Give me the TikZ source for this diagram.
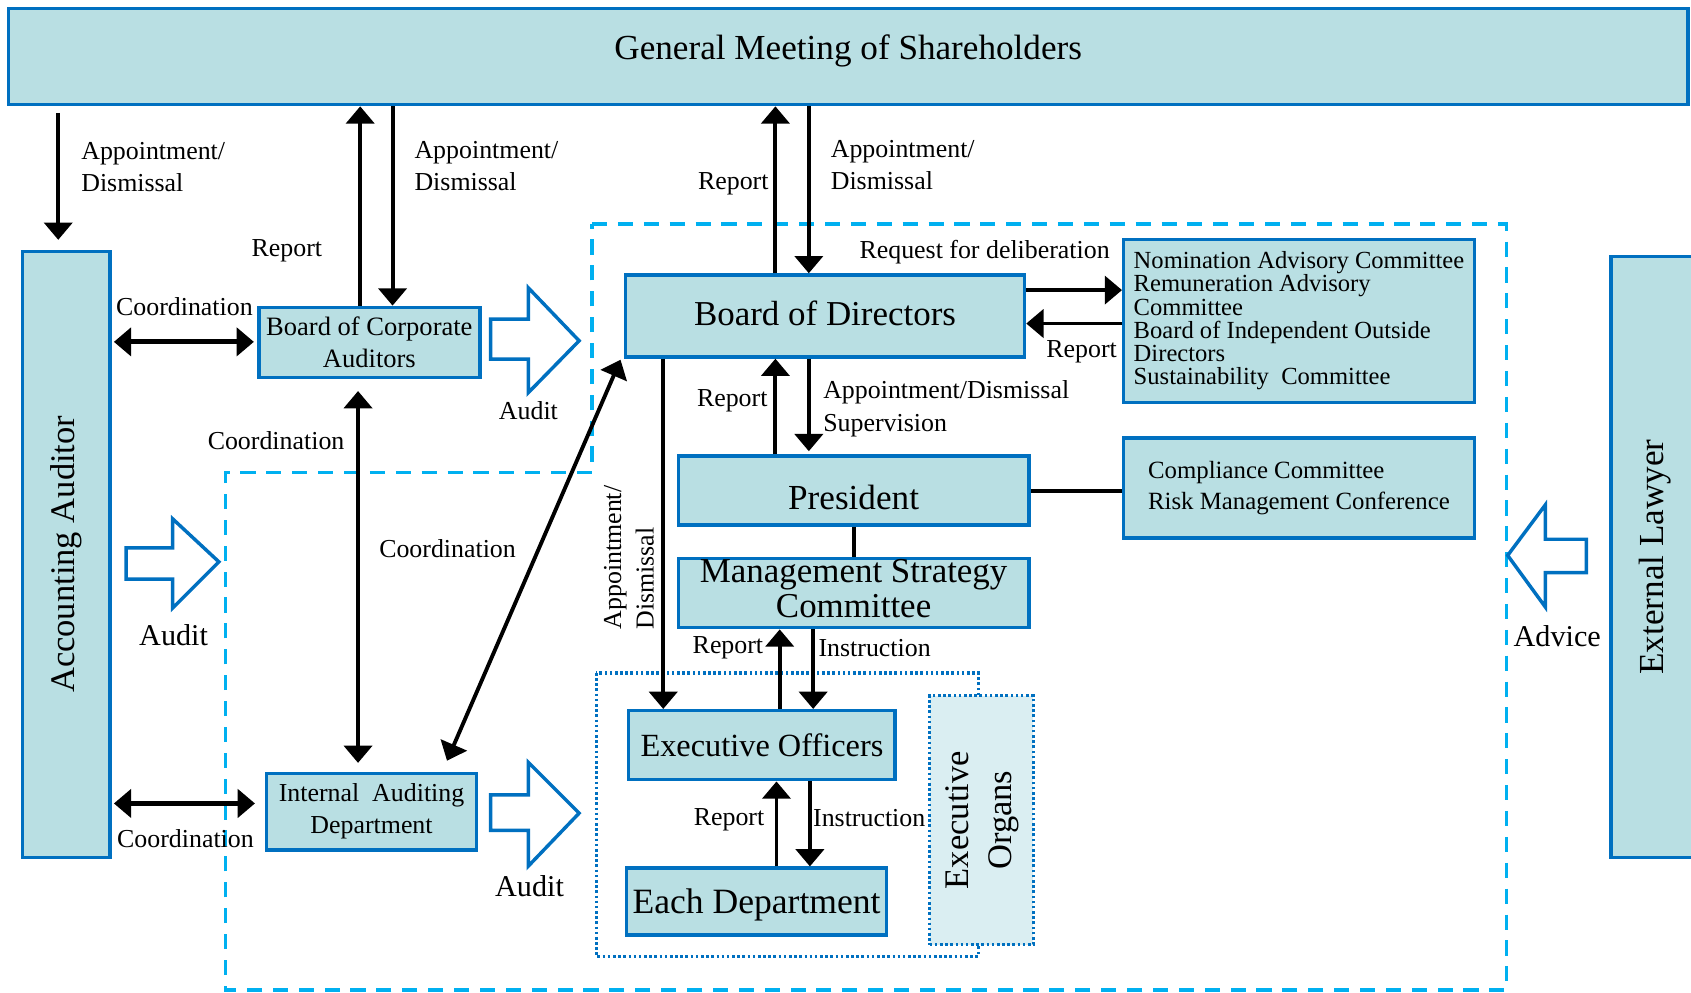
\documentclass[tikz,border=0pt]{standalone}
\usepackage{fontspec}
\setmainfont{Liberation Serif}
\usepackage{graphicx}
\usetikzlibrary{arrows.meta,calc}
\definecolor{boxfill}{RGB}{185,223,227}
\definecolor{boxline}{RGB}{0,112,192}
\definecolor{dashc}{RGB}{0,176,240}
\definecolor{eofill}{RGB}{218,238,242}
\newcommand{\myfs}[2]{\fontsize{#1}{#2}\selectfont}
\begin{document}
\begin{tikzpicture}[x=0.5pt,y=-0.5pt,
  >={Triangle[length=8pt,width=13pt]},
  box/.style={draw=boxline,fill=boxfill,line width=1.6pt,inner sep=0pt},
  arr/.style={line width=1.8pt,->},
  darr/.style={line width=1.8pt,<->},
  plain/.style={line width=1.8pt},
  lbl/.style={inner sep=0pt,font=\myfs{12}{15}},
  hollow/.style={draw=boxline,fill=white,line width=1.6pt,line join=miter},
  frame/.style={draw=dashc,line width=1.7pt,dash pattern=on 7pt off 5pt},
  dotframe/.style={draw=boxline,line width=1.5pt,dash pattern=on 1.2pt off 1.2pt},
]
\useasboundingbox (0,0) rectangle (1568,920);

% frames
\draw[frame] (549,208) -- (1397,208) -- (1397,918) -- (209,918) -- (209,438) -- (549,438) -- cycle;
\draw[dotframe] (553,624) rectangle (907,887);

% boxes
\node[box,minimum width=778.5pt,minimum height=44.5pt,text height=6.5pt,text depth=3.7pt,font=\myfs{16.3}{19}] (gm) at (786.5,52.5) {General Meeting of Shareholders};
\node[box,minimum width=40.5pt,minimum height=281pt,font=\myfs{16}{19}] (aa) at (61.5,514) {\rotatebox{90}{Accounting Auditor}};
\node[box,minimum width=41pt,minimum height=278.5pt,font=\myfs{16.3}{19}] (el) at (1535,516.5) {\rotatebox{90}{External Lawyer}};
\node[box,minimum width=102.5pt,minimum height=32.5pt,align=center,font=\myfs{12.3}{15}] (bca) at (342.5,317.5) {Board of Corporate\\Auditors};
\node[box,minimum width=185pt,minimum height=38pt,text height=9.2pt,text depth=0pt,font=\myfs{16.2}{19}] (bod) at (765,293) {Board of Directors};
\node[box,minimum width=162.5pt,minimum height=75.5pt,align=left,font=\myfs{11.4}{10.8}] (com) at (1204.5,297.5) {Nomination Advisory Committee\\Remuneration Advisory\\Committee\\Board of Independent Outside\\Directors\\Sustainability\ \ Committee};
\node[box,minimum width=162.5pt,minimum height=32pt,text height=17pt,text depth=0pt,font=\myfs{16.3}{19}] (pres) at (791.5,455) {President};
\node[box,minimum width=162.5pt,minimum height=46.5pt,align=left,font=\myfs{11.5}{14}] (comp) at (1204.5,452.5) {Compliance Committee\\Risk Management Conference};
\node[box,minimum width=162.5pt,minimum height=32pt,font=\myfs{16.2}{16}] (msc) at (791.5,550) {\begin{tabular}{@{}c@{}}Management Strategy\\Committee\end{tabular}};
\node[box,minimum width=123.5pt,minimum height=32pt,font=\myfs{15}{18}] (eo) at (706.5,691) {Executive Officers};
\node[box,minimum width=120.5pt,minimum height=31pt,text height=14.4pt,text depth=3.6pt,font=\myfs{16.5}{19}] (ed) at (701.5,836) {Each Department};
\node[box,minimum width=97.5pt,minimum height=35.5pt,align=center,font=\myfs{12}{15}] (iad) at (344.5,752.5) {Internal\ \ Auditing\\Department};
\node[draw=boxline,fill=eofill,line width=1.5pt,dash pattern=on 1.2pt off 1.2pt,inner sep=0pt,minimum width=48pt,minimum height=115.5pt,font=\myfs{16}{20}] (exo) at (910,760.5) {\rotatebox{90}{\begin{tabular}{@{}c@{}}Executive\\Organs\end{tabular}}};

% helper coordinates
\coordinate (x54) at (54,0);
\coordinate (x332) at (332,0);
\coordinate (x334) at (334,0);
\coordinate (x364) at (364,0);
\coordinate (x615) at (615,0);
\coordinate (x719) at (719,0);
\coordinate (x720) at (720,0);
\coordinate (x723) at (723,0);
\coordinate (x750) at (750,0);
\coordinate (x751) at (751,0);
\coordinate (x754) at (754,0);
\coordinate (x792) at (792,0);
\coordinate (y269) at (0,269);
\coordinate (y300) at (0,300);
\coordinate (y317) at (0,317);
\coordinate (y455) at (0,455);
\coordinate (y745) at (0,745);

% connectors
\draw[arr,shorten <=3pt,shorten >=4.5pt] (x54 |- gm.south) -- (x54 |- aa.north);
\draw[arr] (x334 |- bca.north) -- (x334 |- gm.south);
\draw[arr] (x364 |- gm.south) -- (x364 |- bca.north);
\draw[arr] (x719 |- bod.north) -- (x719 |- gm.south);
\draw[arr] (x750 |- gm.south) -- (x750 |- bod.north);
\draw[darr,line width=2.2pt,shorten <=1pt,shorten >=1.5pt] (aa.east |- y317) -- (bca.west |- y317);
\draw[darr,line width=2.2pt,shorten <=1pt,shorten >=4.5pt] (aa.east |- y745) -- (iad.west |- y745);
\draw[darr,shorten <=5.5pt,shorten >=4pt] (x332 |- bca.south) -- (x332 |- iad.north);
\draw[darr] ($(iad.north)+(70,-10)$) -- ($(bod.south west)+(-3,1)$);
\draw[arr] (bod.east |- y269) -- (com.west |- y269);
\draw[arr] (com.west |- y300) -- (bod.east |- y300);
\draw[arr] (x719 |- pres.north) -- (x719 |- bod.south);
\draw[arr,shorten >=1.5pt] (x750 |- bod.south) -- (x750 |- pres.north);
\draw[plain] (pres.east |- y455) -- (comp.west |- y455);
\draw[plain] (x792 |- pres.south) -- (x792 |- msc.north);
\draw[arr] (x615 |- bod.south) -- (x615 |- eo.north);
\draw[arr] (x723 |- eo.north) -- (x723 |- msc.south);
\draw[arr] (x754 |- msc.south) -- (x754 |- eo.north);
\draw[arr] (x720 |- ed.north) -- (x720 |- eo.south);
\draw[arr] (x751 |- eo.south) -- (x751 |- ed.north);

% hollow block arrows
\draw[hollow] (455,296) -- (490,296) -- (490,267) -- (537,316) -- (490,364) -- (490,333) -- (455,333) -- cycle;
\draw[hollow] (117,508) -- (160,508) -- (160,481) -- (203,521) -- (160,564) -- (160,537) -- (117,537) -- cycle;
\draw[hollow] (455,737) -- (490,737) -- (490,707) -- (537,754) -- (490,803) -- (490,770) -- (455,770) -- cycle;
\draw[hollow] (1398,515) -- (1433,468) -- (1433,500) -- (1471,500) -- (1471,531) -- (1433,531) -- (1433,563) -- cycle;

% labels
\node[lbl,anchor=west,align=left] (l1) at (75,155) {Appointment/\\Dismissal};
\node[lbl] (l2) at (266,233) {Report};
\node[lbl,anchor=west,align=left] (l3) at (384,154) {Appointment/\\Dismissal};
\node[lbl,anchor=east] (l4) at (713,170) {Report};
\node[lbl,anchor=west,align=left] (l5) at (770,153) {Appointment/\\Dismissal};
\node[lbl] (l6) at (171,284) {Coordination};
\node[lbl] (l7) at (172,778) {Coordination};
\node[lbl] (l8) at (256,409) {Coordination};
\node[lbl] (l9) at (415,509) {Coordination};
\node[lbl] (l10) at (490,381) {Audit};
\node[lbl,font=\myfs{14}{17}] (l11) at (161,589) {Audit};
\node[lbl,font=\myfs{14}{17}] (l12) at (491,822) {Audit};
\node[lbl,font=\myfs{14}{17}] (l13) at (1444,590) {Advice};
\node[lbl] (l14) at (913,234) {Request for deliberation};
\node[lbl] (l15) at (1003,326) {Report};
\node[lbl] (l16) at (679,372) {Report};
\node[lbl,anchor=west,align=left] (l17) at (763,379) {Appointment/Dismissal\\Supervision};
\node[lbl] (l18) at (675,601) {Report};
\node[lbl] (l19) at (811,601) {Instruction};
\node[lbl] (l20) at (676,760) {Report};
\node[lbl] (l21) at (806,759) {Instruction};
\node[lbl] (l22) at (585,517) {\rotatebox{90}{\begin{tabular}{@{}l@{}}Appointment/\\Dismissal\end{tabular}}};
\end{tikzpicture}
\end{document}
